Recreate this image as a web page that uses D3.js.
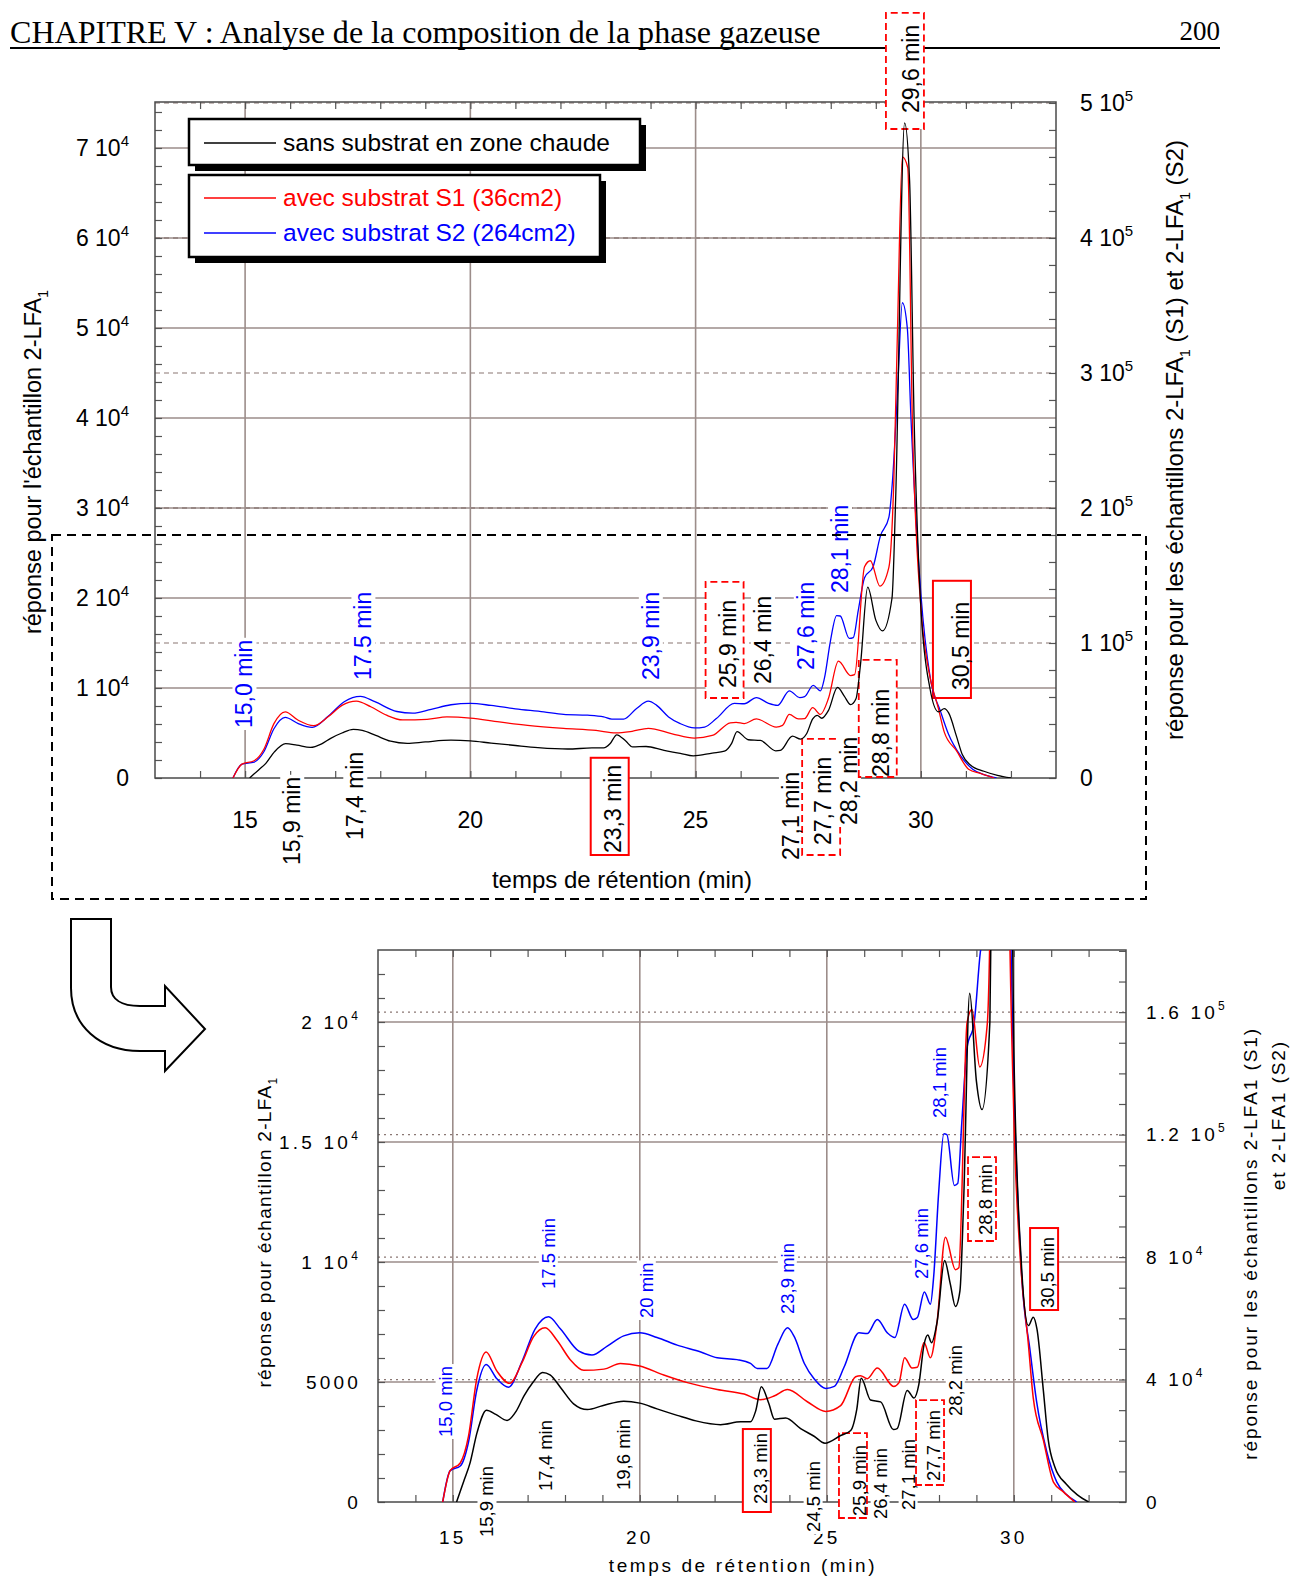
<!DOCTYPE html>
<html><head><meta charset="utf-8">
<script src="https://cdn.jsdelivr.net/npm/d3@7"></script>
<style>
body{margin:0;background:#fff}
text{font-family:"Liberation Sans",Arial,sans-serif}
</style>
</head><body>
<script>
// ---------------- DATA ----------------
const seriesNames = ["sans substrat en zone chaude","avec substrat S1 (36cm2)","avec substrat S2 (264cm2)"];
const seriesColors = ["#000000","#ff0000","#0000ff"];

// black : left axis (2-LFA1, sans substrat)
const blackT = [15.1,15.3,15.46,15.65,15.9,16.15,16.45,16.7,16.9,17.15,17.4,17.6,17.9,18.23,18.6,19.0,19.57,20.0,20.46,21.0,21.5,22.16,22.7,22.96,23.1,23.25,23.45,23.6,23.9,24.3,24.66,24.95,25.37,25.64,25.8,25.92,26.17,26.44,26.78,26.88,27.15,27.33,27.46,27.6,27.7,27.8,27.95,28.15,28.3,28.44,28.56,28.66,28.82,29.0,29.15,29.36,29.44,29.64,29.75,29.85,30.0,30.2,30.39,30.52,30.62,30.79,30.92,31.1,31.4,31.7,32.0];
const blackV = [0,900,1620,2900,3820,3650,3400,3800,4410,5000,5400,5300,4730,4090,3850,4010,4200,4120,3880,3610,3380,3220,3340,3340,3800,4800,4100,3450,3500,3060,2740,2450,2770,2980,3850,5160,4250,4170,3020,3060,4650,4330,4890,6560,6960,6640,7510,10060,9100,8150,8800,12600,21200,17540,16350,20000,30900,72800,66400,40000,19000,10000,7350,7700,7200,4650,2600,1450,750,300,0];

// red : right axis (S1)
const redT = [14.73,14.93,15.2,15.42,15.64,15.89,16.18,16.52,16.85,17.16,17.47,17.79,18.14,18.5,19.04,19.48,20.0,20.64,21.27,22.07,22.79,23.23,23.59,23.95,24.48,24.97,25.37,25.77,25.9,26.08,26.35,26.79,26.93,27.08,27.28,27.42,27.6,27.77,27.95,28.17,28.44,28.53,28.75,28.88,29.09,29.29,29.4,29.48,29.59,29.71,29.81,30.0,30.17,30.39,30.52,30.79,31.06,31.32,31.63];
const redV = [0,10250,12750,21500,40250,49000,42750,38750,45500,54000,56900,52750,46500,43000,43400,45250,44400,41500,39000,36750,35250,33400,34600,36750,32750,29600,31500,40900,41250,40250,43750,37750,39000,47100,43750,44000,52100,47100,59000,86500,75900,76500,156500,160900,142100,156000,220000,330000,460000,452000,267000,126500,80250,51500,34000,20250,6500,3400,0];

// blue : right axis (S2)
const blueT = [14.73,14.93,15.2,15.42,15.64,15.89,16.18,16.49,16.85,17.2,17.56,17.88,18.37,18.72,19.13,19.57,20.0,20.46,21.0,21.63,22.07,22.6,22.96,23.14,23.4,23.69,23.95,24.13,24.4,24.66,24.97,25.2,25.46,25.86,26.08,26.35,26.62,26.82,27.08,27.31,27.42,27.61,27.77,27.86,27.99,28.13,28.21,28.41,28.5,28.61,28.75,28.94,29.1,29.29,29.37,29.48,29.59,29.7,29.78,30.0,30.21,30.44,30.61,30.88,31.15,31.4,31.68];
const blueV = [0,10250,11750,19600,36500,44900,40250,37500,45900,56500,60500,56500,49250,48000,50900,54250,55250,53750,51250,49000,47100,46500,45250,43600,43600,51500,56900,54000,45250,40250,37100,37750,44000,55250,55000,59600,55250,53750,64600,59600,60250,68600,64600,74000,100900,120250,120000,103400,104000,124000,148400,156500,179000,193000,220000,285000,352000,333000,267000,136500,74000,49000,32750,16500,6500,2500,0];

// tick values
const xMajorTicks = [15,20,25,30];
const xMinorTicks = d3.range(14,33,1);
const topLeftTicks = [0,10000,20000,30000,40000,50000,60000,70000];
const topRightTicks = [0,100000,200000,300000,400000,500000];
const botLeftTicks = [0,5000,10000,15000,20000];
const botRightTicks = [0,40000,80000,120000,160000];

// annotation texts (retention times)
const topAnnotations = [
  {txt:"15,0 min", c:"#0000ff", t:14.98, yb:728},
  {txt:"17.5 min", c:"#0000ff", t:17.62, yb:680},
  {txt:"23,9 min", c:"#0000ff", t:24.0,  yb:680},
  {txt:"27,6 min", c:"#0000ff", t:27.44, yb:670},
  {txt:"28,1 min", c:"#0000ff", t:28.2,  yb:593},
  {txt:"15,9 min", c:"#000", t:16.04, yb:865},
  {txt:"17,4 min", c:"#000", t:17.44, yb:840},
  {txt:"23,3 min", c:"#000", t:23.16, yb:853, box:"solid", pad:[7,2]},
  {txt:"25,9 min", c:"#000", t:25.71, yb:688, box:"dash", pad:[18,10]},
  {txt:"26,4 min", c:"#000", t:26.49, yb:684},
  {txt:"27,1 min", c:"#000", t:27.11, yb:860},
  {txt:"27,7 min", c:"#000", t:27.82, yb:845, box:"dash", pad:[18,10], bx:1.5},
  {txt:"28,2 min", c:"#000", t:28.4,  yb:825},
  {txt:"28,8 min", c:"#000", t:29.11, yb:777, box:"dash", pad:[29,0]},
  {txt:"30,5 min", c:"#000", t:30.89, yb:690, box:"solid", pad:[21,8], bx:-6},
  {txt:"29,6 min", c:"#000", t:29.78, yb:113, box:"dash", pad:[12,16], bx:-3}
];
const botAnnotations = [
  {txt:"15,0 min", c:"#0000ff", t:14.79, yb:1437},
  {txt:"17.5 min", c:"#0000ff", t:17.55, yb:1289},
  {txt:"20 min",   c:"#0000ff", t:20.17, yb:1318},
  {txt:"23,9 min", c:"#0000ff", t:23.94, yb:1314},
  {txt:"27,6 min", c:"#0000ff", t:27.52, yb:1279},
  {txt:"28,1 min", c:"#0000ff", t:28.0,  yb:1118},
  {txt:"15,9 min", c:"#000", t:15.91, yb:1537},
  {txt:"17,4 min", c:"#000", t:17.47, yb:1491},
  {txt:"19,6 min", c:"#000", t:19.55, yb:1490},
  {txt:"23,3 min", c:"#000", t:23.21, yb:1504, box:"solid", pad:[4,8]},
  {txt:"24,5 min", c:"#000", t:24.63, yb:1532},
  {txt:"25,9 min", c:"#000", t:25.86, yb:1516, box:"dash", pad:[12,2], bx:-3},
  {txt:"26,4 min", c:"#000", t:26.42, yb:1519},
  {txt:"27,1 min", c:"#000", t:27.17, yb:1510},
  {txt:"27,7 min", c:"#000", t:27.84, yb:1481, box:"dash", pad:[10,4]},
  {txt:"28,2 min", c:"#000", t:28.43, yb:1416},
  {txt:"28,8 min", c:"#000", t:29.23, yb:1235, box:"dash", pad:[7,6]},
  {txt:"30,5 min", c:"#000", t:30.89, yb:1308, box:"solid", pad:[9,2]}
];

// ---------------- DRAW ----------------
const svg = d3.select("body").append("svg").attr("width",1300).attr("height",1580);

// header
const hdr = svg.append("text").attr("x",10).attr("y",43)
  .style("font-family",'"Liberation Serif","Times New Roman",serif').attr("font-size",29)
  .text("CHAPITRE V : Analyse de la composition de la phase gazeuse");
const hw = hdr.node().getComputedTextLength();
hdr.attr("font-size", 29*811/hw);
svg.append("text").attr("x",1220).attr("y",40).attr("text-anchor","end")
  .style("font-family",'"Liberation Serif","Times New Roman",serif').attr("font-size",27).text("200");
svg.append("line").attr("x1",10).attr("x2",1220).attr("y1",48).attr("y2",48).attr("stroke","#000").attr("stroke-width",2);

function fmt(v){
  if(v<10000) return [String(v),null];
  const e=Math.floor(Math.log10(v)); const m=+(v/Math.pow(10,e)).toFixed(1);
  return [m+" 10", String(e)];
}
function sciText(g,x,y,v,anchor,fs,sfs,ls,rise){
  const [m,e]=fmt(v);
  const t=g.append("text").attr("x",x).attr("y",y).attr("text-anchor",anchor).attr("font-size",fs).attr("letter-spacing",ls);
  t.append("tspan").text(m);
  if(e) t.append("tspan").attr("dy",-rise).attr("font-size",sfs).text(e);
  return t;
}

// two layers: backgrounds/boxes first, then texts on top
function vLabel(bgLayer,txLayer,xc,yb,a,fs,dash,bw){
  const tr=`translate(${xc+0.36*fs},${yb}) rotate(-90)`;
  const gt=txLayer.append("g").attr("transform",tr);
  const t=gt.append("text").attr("font-size",fs).attr("fill",a.c).text(a.txt);
  const bb=t.node().getBBox();
  const gb=bgLayer.append("g").attr("transform",tr);
  if(a.box){
    const cy = -(0.36*fs+3) + (a.bx||0);
    gb.append("rect").attr("x",bb.x-a.pad[1]).attr("y",cy-bw/2)
      .attr("width",bb.width+a.pad[0]+a.pad[1]).attr("height",bw)
      .attr("fill","#fff").attr("stroke","#ff0000").attr("stroke-width",a.box==="solid"?2:1.8)
      .attr("stroke-dasharray",a.box==="solid"?null:dash);
  } else {
    gb.append("rect").attr("x",bb.x-2).attr("y",bb.y+1).attr("width",bb.width+4).attr("height",bb.height-2).attr("fill","#fff");
  }
}

function drawChart(cfg){
  const x=d3.scaleLinear().domain([13,33]).range([cfg.L,cfg.R]);
  const yL=d3.scaleLinear().domain([0,cfg.yLMax]).range([cfg.B,cfg.T]);
  const yR=d3.scaleLinear().domain([0,cfg.yRMax]).range([cfg.B,cfg.T]);
  const g=svg.append("g");
  // right-axis grid (dashed)
  g.selectAll(null).data(cfg.rTicks.filter(v=>v>0)).join("line")
    .attr("x1",cfg.L).attr("x2",cfg.R).attr("y1",d=>yR(d)).attr("y2",d=>yR(d))
    .attr("stroke","#8a7773").attr("stroke-width",cfg.rGridW).attr("stroke-dasharray",cfg.rDash);
  // left-axis grid (solid)
  g.selectAll(null).data(cfg.lTicks.filter(v=>v>0)).join("line")
    .attr("x1",cfg.L).attr("x2",cfg.R).attr("y1",d=>yL(d)).attr("y2",d=>yL(d))
    .attr("stroke","#6a5550").attr("stroke-width",1.1);
  // vertical grid
  g.selectAll(null).data(xMajorTicks).join("line")
    .attr("x1",d=>x(d)).attr("x2",d=>x(d)).attr("y1",cfg.T).attr("y2",cfg.B)
    .attr("stroke","#9c8d8a").attr("stroke-width",1.6);
  // ticks via axes
  const tk=(sel)=>{sel.select(".domain").remove(); sel.selectAll("line").attr("stroke","#555").attr("stroke-width",1.2);};
  g.append("g").attr("transform",`translate(0,${cfg.B})`).call(d3.axisBottom(x).tickValues(xMinorTicks).tickSize(-7).tickFormat("")).call(tk);
  g.append("g").attr("transform",`translate(0,${cfg.T})`).call(d3.axisTop(x).tickValues(xMinorTicks).tickSize(-7).tickFormat("")).call(tk);
  g.append("g").attr("transform",`translate(${cfg.L},0)`).call(d3.axisLeft(yL).tickValues(d3.range(0,cfg.yLMax,cfg.lMinor)).tickSize(-7).tickFormat("")).call(tk);
  g.append("g").attr("transform",`translate(${cfg.R},0)`).call(d3.axisRight(yR).tickValues(d3.range(0,cfg.yRMax,cfg.rMinor)).tickSize(-7).tickFormat("")).call(tk);
  // frame
  g.append("rect").attr("x",cfg.L).attr("y",cfg.T).attr("width",cfg.R-cfg.L).attr("height",cfg.B-cfg.T)
    .attr("fill","none").attr("stroke","#4a4a4a").attr("stroke-width",1.5);
  // tick labels
  cfg.lTicks.forEach(v=>sciText(g,cfg.lLabX,yL(v)+cfg.fs*0.36,v,"end",cfg.fs,cfg.sfs,cfg.ls,cfg.rise));
  cfg.rTicks.forEach(v=>sciText(g,cfg.rLabX,yR(v)+cfg.fs*0.36,v,"start",cfg.fs,cfg.sfs,cfg.ls,cfg.rise));
  xMajorTicks.forEach(v=>g.append("text").attr("x",x(v)).attr("y",cfg.xLabY).attr("text-anchor","middle")
     .attr("font-size",cfg.fs).attr("letter-spacing",cfg.ls).text(v));
  // annotations
  const bgL=g.append("g"), txL=g.append("g");
  cfg.ann.forEach(a=>vLabel(bgL,txL,x(a.t),a.yb,a,cfg.afs,cfg.dash,cfg.bw));
  // series
  const cid="clip"+cfg.id;
  svg.append("clipPath").attr("id",cid).append("rect").attr("x",cfg.L).attr("y",cfg.T).attr("width",cfg.R-cfg.L).attr("height",cfg.B-cfg.T);
  const lg=g.append("g").attr("clip-path",`url(#${cid})`);
  const series=[[blackT,blackV,yL],[redT,redV,yR],[blueT,blueV,yR]];
  [2,1,0].forEach(i=>{
    const [T,V,ys]=series[i];
    const ln=d3.line().x(d=>x(d[0])).y(d=>ys(d[1])).curve(d3.curveMonotoneX);
    lg.append("path").attr("d",ln(d3.zip(T,V))).attr("fill","none").attr("stroke",seriesColors[i]).attr("stroke-width",cfg.lw).attr("stroke-linejoin","round");
  });
  return {g,x,yL,yR};
}

// ---- top chart ----
const chartTop = drawChart({id:"top",L:155,R:1056,T:102,B:778,yLMax:75110,yRMax:500700,
  lTicks:topLeftTicks,rTicks:topRightTicks,lMinor:2000,rMinor:20000,
  rDash:"5,4",rGridW:1.1,fs:23,sfs:15,ls:0,rise:10,lLabX:129,rLabX:1080,xLabY:828,
  ann:topAnnotations,afs:23,dash:"7,4",lw:1.3,bw:38});

// legend
const lgd=svg.append("g");
function legBox(x,y,w,h){
  lgd.append("rect").attr("x",x+6).attr("y",y+6).attr("width",w).attr("height",h).attr("fill","#000");
  lgd.append("rect").attr("x",x).attr("y",y).attr("width",w).attr("height",h).attr("fill","#fff").attr("stroke","#000").attr("stroke-width",2.5);
}
legBox(189,119,451,46);
legBox(189,175,411,82);
const legY=[143,198,233];
seriesNames.forEach((n,i)=>{
  lgd.append("line").attr("x1",204).attr("x2",276).attr("y1",legY[i]).attr("y2",legY[i]).attr("stroke",seriesColors[i]).attr("stroke-width",1.3);
  lgd.append("text").attr("x",283).attr("y",legY[i]+8).attr("font-size",24.5).attr("fill",seriesColors[i]).text(n);
});

// top axis titles
{
  const t=svg.append("text").attr("transform","translate(41,462) rotate(-90)").attr("text-anchor","middle").attr("font-size",23.5);
  t.append("tspan").text("réponse pour l'échantillon 2-LFA");
  t.append("tspan").attr("font-size",14).attr("dy",7).text("1");
  const r=svg.append("text").attr("transform","translate(1183,440) rotate(-90)").attr("text-anchor","middle").attr("font-size",24);
  r.append("tspan").text("réponse pour les échantillons 2-LFA");
  r.append("tspan").attr("font-size",14).attr("dy",7).text("1");
  r.append("tspan").attr("dy",-7).text(" (S1) et 2-LFA");
  r.append("tspan").attr("font-size",14).attr("dy",7).text("1");
  r.append("tspan").attr("dy",-7).text(" (S2)");
  svg.append("text").attr("x",622).attr("y",888).attr("text-anchor","middle").attr("font-size",24).text("temps de rétention (min)");
}

// dashed zoom frame
svg.append("rect").attr("x",52).attr("y",535).attr("width",1094).attr("height",364)
  .attr("fill","none").attr("stroke","#000").attr("stroke-width",2).attr("stroke-dasharray","9,6");

// arrow
svg.append("path").attr("d","M71,919 L111,919 L111,987 C111,999 121,1006 140,1006 L165,1006 L165,986 L205,1029 L165,1071 L165,1051 L140,1051 C100,1051 71,1026 71,988 Z")
  .attr("fill","#fff").attr("stroke","#000").attr("stroke-width",2);

// ---- bottom chart ----
const chartBot = drawChart({id:"bot",L:378,R:1126,T:950,B:1502,yLMax:23000,yRMax:180300,
  lTicks:botLeftTicks,rTicks:botRightTicks,lMinor:1000,rMinor:10000,
  rDash:"2,4",rGridW:1.3,fs:19,sfs:12,ls:3.2,rise:9,lLabX:361,rLabX:1146,xLabY:1544,
  ann:botAnnotations,afs:18.5,dash:"8,3",lw:1.5,bw:28});
{
  const t=svg.append("text").attr("transform","translate(271,1232) rotate(-90)").attr("text-anchor","middle").attr("font-size",19).attr("letter-spacing",1.3);
  t.append("tspan").text("réponse pour échantillon 2-LFA");
  t.append("tspan").attr("font-size",12).attr("dy",6).text("1");
  svg.append("text").attr("transform","translate(1257,1027) rotate(-90)").attr("text-anchor","end").attr("font-size",19).attr("letter-spacing",1.9)
    .text("réponse pour les échantillons 2-LFA1 (S1)");
  svg.append("text").attr("transform","translate(1285,1040) rotate(-90)").attr("text-anchor","end").attr("font-size",19).attr("letter-spacing",1.9)
    .text("et 2-LFA1 (S2)");
  svg.append("text").attr("x",743).attr("y",1572).attr("text-anchor","middle").attr("font-size",19).attr("letter-spacing",2.6).text("temps de rétention (min)");
}
</script>
</body></html>
